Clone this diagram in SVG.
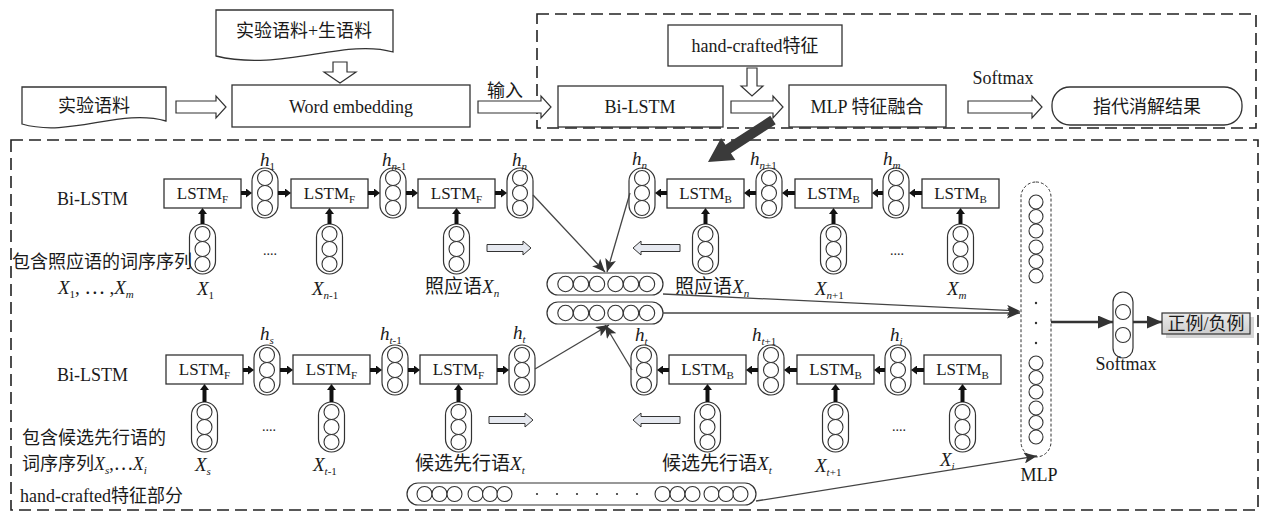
<svg xmlns="http://www.w3.org/2000/svg" width="1261" height="516" viewBox="0 0 1261 516">
<defs>
<style>
.t{font-family:"Liberation Serif","Noto Sans CJK SC",serif;fill:#1a1a1a;font-size:18px}
.v{font-style:italic}
.sb{font-size:11px}
.box{fill:#fff;stroke:#333;stroke-width:1.3}
.pill{fill:#fff;stroke:#333;stroke-width:1.2}
.ci{fill:#fff;stroke:#333;stroke-width:1.1}
.dash{fill:none;stroke:#222;stroke-width:1.6;stroke-dasharray:12 6}
.thick{stroke:#111;stroke-width:4;fill:none;marker-end:url(#mk)}
.thin{stroke:#444;stroke-width:1.3;fill:none;marker-end:url(#ma)}
.bold{stroke:#333;stroke-width:2.5;fill:none;marker-end:url(#mb)}
.ho{fill:#fff;stroke:#333;stroke-width:1.2}
.ho2{fill:#e6e9f0;stroke:#333;stroke-width:1}
.lstm{font-size:17px;text-anchor:middle}
.h{font-size:19px}
.dots{font-size:14px}
</style>
<marker id="mk" markerUnits="userSpaceOnUse" markerWidth="6" markerHeight="9" refX="0" refY="4.5" orient="auto"><path d="M0,0 L6,4.5 L0,9 Z" fill="#111"/></marker>
<marker id="ma" markerUnits="userSpaceOnUse" markerWidth="13" markerHeight="11" refX="13" refY="5.5" orient="auto"><path d="M0,0 L13,5.5 L0,11 L3,5.5 Z" fill="#333"/></marker>
<marker id="mb" markerUnits="userSpaceOnUse" markerWidth="15" markerHeight="13" refX="15" refY="6.5" orient="auto"><path d="M0,0 L15,6.5 L0,13 Z" fill="#333"/></marker>
<linearGradient id="gg" x1="0" y1="0" x2="0" y2="1"><stop offset="0" stop-color="#ebebeb"/><stop offset="1" stop-color="#cdcdcd"/></linearGradient>
<g id="col"><rect class="pill" x="-13" y="-25" width="26" height="50" rx="13"/><circle class="ci" cx="0" cy="-15" r="7.5"/><circle class="ci" cx="0" cy="0" r="7.5"/><circle class="ci" cx="0" cy="15" r="7.5"/></g>
<g id="row6"><rect class="pill" x="0" y="-11" width="116" height="22" rx="11"/><circle class="ci" cx="18.5" cy="0" r="7.7"/><circle class="ci" cx="34" cy="0" r="7.7"/><circle class="ci" cx="50" cy="0" r="7.7"/><circle class="ci" cx="68.5" cy="0" r="7.7"/><circle class="ci" cx="84" cy="0" r="7.7"/><circle class="ci" cx="100" cy="0" r="7.7"/></g>
</defs>
<rect width="1261" height="516" fill="#fff"/>

<!-- frames -->
<g id="frame-top"><rect class="dash" x="537" y="14" width="719" height="114"/></g>
<g id="frame-bottom"><rect class="dash" x="11" y="140" width="1247" height="370"/></g>

<!-- top flow nodes -->
<g id="doc-corpus-raw"><path class="box" d="M216,10 H393 V52 C345,38 280,72 216,56 Z"/><text class="t" x="304" y="37" text-anchor="middle">实验语料+生语料</text></g>
<g id="doc-corpus"><path class="box" d="M22,87 H166 V121 C120,108 70,138 22,124 Z"/><text class="t" x="94" y="112" text-anchor="middle">实验语料</text></g>
<g id="word-embedding"><rect class="box" x="232" y="85" width="238" height="42"/><text class="t" x="351" y="113" text-anchor="middle">Word embedding</text></g>
<g id="bilstm-top"><rect class="box" x="558" y="86" width="165" height="41"/><text class="t" x="640" y="113" text-anchor="middle">Bi-LSTM</text></g>
<g id="handcrafted-top"><rect class="box" x="668" y="25" width="174" height="41"/><text class="t" x="755" y="52" text-anchor="middle">hand-crafted特征</text></g>
<g id="mlp-fusion"><rect class="box" x="789" y="85" width="157" height="42"/><text class="t" x="867" y="113" text-anchor="middle">MLP 特征融合</text></g>
<g id="result"><rect class="box" x="1052" y="87" width="190" height="38" rx="18"/><text class="t" x="1147" y="113" text-anchor="middle">指代消解结果</text></g>

<!-- row 1 (anaphor) -->
<g id="r1-lstmf1"><rect class="box" x="164" y="179" width="77" height="29"/><text class="t lstm" x="202.5" y="199">LSTM<tspan class="sb" font-size="10" dy="4">F</tspan></text></g>
<g id="r1-lstmf2"><rect class="box" x="291" y="179" width="77" height="29"/><text class="t lstm" x="329.5" y="199">LSTM<tspan class="sb" font-size="10" dy="4">F</tspan></text></g>
<g id="r1-lstmf3"><rect class="box" x="418" y="179" width="77" height="29"/><text class="t lstm" x="456.5" y="199">LSTM<tspan class="sb" font-size="10" dy="4">F</tspan></text></g>
<g id="r1-lstmb4"><rect class="box" x="667" y="179" width="77" height="29"/><text class="t lstm" x="705.5" y="199">LSTM<tspan class="sb" font-size="10" dy="4">B</tspan></text></g>
<g id="r1-lstmb5"><rect class="box" x="795" y="179" width="77" height="29"/><text class="t lstm" x="833.5" y="199">LSTM<tspan class="sb" font-size="10" dy="4">B</tspan></text></g>
<g id="r1-lstmb6"><rect class="box" x="922" y="179" width="77" height="29"/><text class="t lstm" x="960.5" y="199">LSTM<tspan class="sb" font-size="10" dy="4">B</tspan></text></g>

<g id="r1-h1"><use href="#col" x="265" y="193"/><text class="t h" x="260" y="166"><tspan class="v">h</tspan><tspan class="sb" dy="4">1</tspan></text></g>
<g id="r1-hn-1"><use href="#col" x="393" y="193"/><text class="t h" x="382" y="166"><tspan class="v">h</tspan><tspan class="sb" dy="4"><tspan class="v">n</tspan>-1</tspan></text></g>
<g id="r1-hn"><use href="#col" x="520" y="193"/><text class="t h" x="512" y="166"><tspan class="v">h</tspan><tspan class="sb v" dy="4">n</tspan></text></g>
<g id="r1-hn-b"><use href="#col" x="642" y="193"/><text class="t h" x="632" y="165"><tspan class="v">h</tspan><tspan class="sb v" dy="4">n</tspan></text></g>
<g id="r1-hn+1"><use href="#col" x="769" y="193"/><text class="t h" x="750" y="165"><tspan class="v">h</tspan><tspan class="sb" dy="4"><tspan class="v">n</tspan>+1</tspan></text></g>
<g id="r1-hm"><use href="#col" x="896" y="193"/><text class="t h" x="883" y="165"><tspan class="v">h</tspan><tspan class="sb v" dy="4">m</tspan></text></g>

<g id="r1-x1"><use href="#col" x="202.5" y="249"/><text class="t h" x="197" y="295"><tspan class="v">X</tspan><tspan class="sb" dy="4">1</tspan></text></g>
<g id="r1-xn-1"><use href="#col" x="329.5" y="249"/><text class="t h" x="312" y="295"><tspan class="v">X</tspan><tspan class="sb" dy="4"><tspan class="v">n</tspan>-1</tspan></text></g>
<g id="r1-xn"><use href="#col" x="456.5" y="249"/><text class="t h" x="425" y="293">照应语<tspan class="v">X</tspan><tspan class="sb v" dy="4">n</tspan></text></g>
<g id="r1-xn-b"><use href="#col" x="705.5" y="249"/><text class="t h" x="675" y="293">照应语<tspan class="v">X</tspan><tspan class="sb v" dy="4">n</tspan></text></g>
<g id="r1-xn+1"><use href="#col" x="833.5" y="249"/><text class="t h" x="815" y="295"><tspan class="v">X</tspan><tspan class="sb" dy="4"><tspan class="v">n</tspan>+1</tspan></text></g>
<g id="r1-xm"><use href="#col" x="960.5" y="249"/><text class="t h" x="947" y="295"><tspan class="v">X</tspan><tspan class="sb v" dy="4">m</tspan></text></g>

<text class="t dots" x="263" y="255">....</text>
<text class="t dots" x="890" y="255">....</text>

<!-- row 2 (candidate) -->
<g id="r2-lstmf1"><rect class="box" x="166" y="355" width="77" height="29"/><text class="t lstm" x="204.5" y="375">LSTM<tspan class="sb" font-size="10" dy="4">F</tspan></text></g>
<g id="r2-lstmf2"><rect class="box" x="293" y="355" width="77" height="29"/><text class="t lstm" x="331.5" y="375">LSTM<tspan class="sb" font-size="10" dy="4">F</tspan></text></g>
<g id="r2-lstmf3"><rect class="box" x="420" y="355" width="77" height="29"/><text class="t lstm" x="458.5" y="375">LSTM<tspan class="sb" font-size="10" dy="4">F</tspan></text></g>
<g id="r2-lstmb4"><rect class="box" x="669" y="355" width="77" height="29"/><text class="t lstm" x="707.5" y="375">LSTM<tspan class="sb" font-size="10" dy="4">B</tspan></text></g>
<g id="r2-lstmb5"><rect class="box" x="797" y="355" width="77" height="29"/><text class="t lstm" x="835.5" y="375">LSTM<tspan class="sb" font-size="10" dy="4">B</tspan></text></g>
<g id="r2-lstmb6"><rect class="box" x="924" y="355" width="77" height="29"/><text class="t lstm" x="962.5" y="375">LSTM<tspan class="sb" font-size="10" dy="4">B</tspan></text></g>

<g id="r2-hs"><use href="#col" x="267" y="370"/><text class="t h" x="260" y="340"><tspan class="v">h</tspan><tspan class="sb v" dy="4">s</tspan></text></g>
<g id="r2-ht-1"><use href="#col" x="395" y="370"/><text class="t h" x="380" y="340"><tspan class="v">h</tspan><tspan class="sb" dy="4"><tspan class="v">t</tspan>-1</tspan></text></g>
<g id="r2-ht"><use href="#col" x="522" y="370"/><text class="t h" x="513" y="339"><tspan class="v">h</tspan><tspan class="sb v" dy="4">t</tspan></text></g>
<g id="r2-ht-b"><use href="#col" x="644" y="370"/><text class="t h" x="635" y="341"><tspan class="v">h</tspan><tspan class="sb v" dy="4">t</tspan></text></g>
<g id="r2-ht+1"><use href="#col" x="771" y="370"/><text class="t h" x="752" y="341"><tspan class="v">h</tspan><tspan class="sb" dy="4"><tspan class="v">t</tspan>+1</tspan></text></g>
<g id="r2-hi"><use href="#col" x="898" y="370"/><text class="t h" x="890" y="341"><tspan class="v">h</tspan><tspan class="sb v" dy="4">i</tspan></text></g>

<g id="r2-xs"><use href="#col" x="204.5" y="427"/><text class="t h" x="195" y="471"><tspan class="v">X</tspan><tspan class="sb v" dy="4">s</tspan></text></g>
<g id="r2-xt-1"><use href="#col" x="331.5" y="427"/><text class="t h" x="313" y="471"><tspan class="v">X</tspan><tspan class="sb" dy="4"><tspan class="v">t</tspan>-1</tspan></text></g>
<g id="r2-xt"><use href="#col" x="458.5" y="427"/><text class="t h" x="415" y="470">候选先行语<tspan class="v">X</tspan><tspan class="sb v" dy="4">t</tspan></text></g>
<g id="r2-xt-b"><use href="#col" x="707.5" y="427"/><text class="t h" x="662" y="470">候选先行语<tspan class="v">X</tspan><tspan class="sb v" dy="4">t</tspan></text></g>
<g id="r2-xt+1"><use href="#col" x="835.5" y="427"/><text class="t h" x="815" y="472"><tspan class="v">X</tspan><tspan class="sb" dy="4"><tspan class="v">t</tspan>+1</tspan></text></g>
<g id="r2-xi"><use href="#col" x="962.5" y="427"/><text class="t h" x="940" y="466"><tspan class="v">X</tspan><tspan class="sb v" dy="4">i</tspan></text></g>

<text class="t dots" x="262" y="431">....</text>
<text class="t dots" x="892" y="431">....</text>

<!-- left labels -->
<text class="t" x="57" y="205">Bi-LSTM</text>
<text class="t" x="12" y="268" font-size="17.5">包含照应语的词序序列</text>
<text class="t h" x="58" y="294"><tspan class="v">X</tspan><tspan class="sb" dy="4">1</tspan><tspan dy="-4">, ⋯ ,</tspan><tspan class="v">X</tspan><tspan class="sb v" dy="4">m</tspan></text>
<text class="t" x="57" y="381">Bi-LSTM</text>
<text class="t" x="22" y="444">包含候选先行语的</text>
<text class="t" x="22" y="470">词序序列<tspan class="v">X</tspan><tspan class="sb v" dy="4">s</tspan><tspan dy="-4">,⋯</tspan><tspan class="v">X</tspan><tspan class="sb v" dy="4">i</tspan></text>
<text class="t" x="20" y="502">hand-crafted特征部分</text>

<!-- vectors -->
<g id="anaphor-vec"><use href="#row6" x="547" y="284"/></g>
<g id="cand-vec"><use href="#row6" x="547" y="313"/></g>
<g id="hc-vec">
<rect class="pill" x="407" y="483" width="349" height="22" rx="11"/>
<circle class="ci" cx="424.5" cy="494" r="7.5"/><circle class="ci" cx="439.5" cy="494" r="7.5"/><circle class="ci" cx="454.5" cy="494" r="7.5"/><circle class="ci" cx="475.5" cy="494" r="7.5"/><circle class="ci" cx="490" cy="494" r="7.5"/><circle class="ci" cx="504.5" cy="494" r="7.5"/>
<g fill="#333"><circle cx="537" cy="494" r="1.1"/><circle cx="557" cy="494" r="1.1"/><circle cx="577" cy="494" r="1.1"/><circle cx="597" cy="494" r="1.1"/><circle cx="617" cy="494" r="1.1"/><circle cx="637" cy="494" r="1.1"/></g>
<circle class="ci" cx="662.5" cy="494" r="7.5"/><circle class="ci" cx="677.5" cy="494" r="7.5"/><circle class="ci" cx="692.5" cy="494" r="7.5"/><circle class="ci" cx="711.5" cy="494" r="7.5"/><circle class="ci" cx="726" cy="494" r="7.5"/><circle class="ci" cx="740.5" cy="494" r="7.5"/>
</g>

<g id="mlp">
<rect x="1021" y="182" width="30" height="275" rx="15" fill="#fff" stroke="#333" stroke-width="1" stroke-dasharray="3 2"/>
<circle class="ci" cx="1036" cy="202" r="7"/><circle class="ci" cx="1036" cy="216.5" r="7"/><circle class="ci" cx="1036" cy="231" r="7"/><circle class="ci" cx="1036" cy="247" r="7"/><circle class="ci" cx="1036" cy="261.5" r="7"/><circle class="ci" cx="1036" cy="276" r="7"/>
<g fill="#333"><circle cx="1036" cy="303" r="1.2"/><circle cx="1036" cy="323" r="1.2"/><circle cx="1036" cy="343" r="1.2"/></g>
<circle class="ci" cx="1036" cy="363" r="7"/><circle class="ci" cx="1036" cy="377.5" r="7"/><circle class="ci" cx="1036" cy="392" r="7"/><circle class="ci" cx="1036" cy="408" r="7"/><circle class="ci" cx="1036" cy="422.5" r="7"/><circle class="ci" cx="1036" cy="437" r="7"/>
<text class="t" x="1039" y="481" text-anchor="middle">MLP</text>
</g>
<g id="softmax">
<rect class="pill" x="1113" y="292" width="20" height="66" rx="10"/>
<circle class="ci" cx="1123" cy="312" r="7.5"/><circle class="ci" cx="1123" cy="335" r="7.5"/>
<text class="t" x="1126" y="370" text-anchor="middle">Softmax</text>
</g>
<g id="output">
<rect x="1166" y="317" width="88" height="21" fill="#c4c4c4" opacity="0.7"/>
<rect x="1162" y="313" width="88" height="21" fill="url(#gg)" stroke="#333" stroke-width="1.2"/>
<text class="t" x="1206" y="330" font-size="19" text-anchor="middle">正例/负例</text>
</g>

<!-- connectors -->
<g id="connectors">
<polygon class="ho" points="176,101 216,101 216,96 226,107 216,118 216,113 176,113"/>
<polygon class="ho" points="478,101 541,101 541,96 551,107 541,118 541,113 478,113"/>
<polygon class="ho" points="731,101 773,101 773,96 783,107 773,118 773,113 731,113"/>
<polygon class="ho" points="968,101 1032,101 1032,96 1042,107 1032,118 1032,113 968,113"/>
<polygon class="ho" points="333,62 347,62 347,72 356,72 340,83 324,72 333,72"/>
<polygon class="ho" points="747,68 757,68 757,86 763,86 752,96 741,86 747,86"/>
<text class="t" x="505" y="97" text-anchor="middle">输入</text>
<text class="t" x="1003" y="84" text-anchor="middle">Softmax</text>
<polygon fill="#3a3a3a" points="770.3,115.8 775.7,124.2 730.9,153.2 735.3,159.9 708,162 721.1,138.1 725.5,144.8"/>

<polygon class="ho2" points="487,244.5 523,244.5 523,241 531,248 523,255 523,251.5 487,251.5"/>
<polygon class="ho2" points="680,244.5 641,244.5 641,241 633,248 641,255 641,251.5 680,251.5"/>
<polygon class="ho2" points="489,416.5 525,416.5 525,413 533,420 525,427 525,423.5 489,423.5"/>
<polygon class="ho2" points="680,416.5 641,416.5 641,413 633,420 641,427 641,423.5 680,423.5"/>

<g class="thick">
<line x1="241" y1="193" x2="246" y2="193"/><line x1="278" y1="193" x2="285" y2="193"/><line x1="368" y1="193" x2="374" y2="193"/><line x1="406" y1="193" x2="412" y2="193"/><line x1="495" y1="193" x2="501" y2="193"/>
<line x1="667" y1="193" x2="661" y2="193"/><line x1="756" y1="193" x2="750" y2="193"/><line x1="795" y1="193" x2="788" y2="193"/><line x1="883" y1="193" x2="878" y2="193"/><line x1="922" y1="193" x2="915" y2="193"/>
<line x1="202.5" y1="224" x2="202.5" y2="214"/><line x1="329.5" y1="224" x2="329.5" y2="214"/><line x1="456.5" y1="224" x2="456.5" y2="214"/><line x1="705.5" y1="224" x2="705.5" y2="214"/><line x1="833.5" y1="224" x2="833.5" y2="214"/><line x1="960.5" y1="224" x2="960.5" y2="214"/>
<line x1="243" y1="370" x2="248" y2="370"/><line x1="280" y1="370" x2="287" y2="370"/><line x1="370" y1="370" x2="376" y2="370"/><line x1="408" y1="370" x2="414" y2="370"/><line x1="497" y1="370" x2="503" y2="370"/>
<line x1="669" y1="370" x2="663" y2="370"/><line x1="758" y1="370" x2="752" y2="370"/><line x1="797" y1="370" x2="790" y2="370"/><line x1="885" y1="370" x2="880" y2="370"/><line x1="924" y1="370" x2="917" y2="370"/>
<line x1="204.5" y1="402" x2="204.5" y2="390"/><line x1="331.5" y1="402" x2="331.5" y2="390"/><line x1="458.5" y1="402" x2="458.5" y2="390"/><line x1="707.5" y1="402" x2="707.5" y2="390"/><line x1="835.5" y1="402" x2="835.5" y2="390"/><line x1="962.5" y1="402" x2="962.5" y2="390"/>
</g>

<g class="thin">
<line x1="533" y1="195" x2="605" y2="272"/>
<line x1="630" y1="193" x2="607" y2="272"/>
<line x1="535" y1="369" x2="609" y2="325"/>
<line x1="632" y1="370" x2="605" y2="325"/>
<line x1="663" y1="294" x2="1020" y2="311"/>
<line x1="663" y1="313" x2="1020" y2="313"/>
<line x1="756" y1="501" x2="1037" y2="456"/>
</g>
<line class="bold" x1="1051" y1="322" x2="1113" y2="322"/>
<line class="bold" x1="1133" y1="322" x2="1162" y2="322"/>
</g>
</svg>
